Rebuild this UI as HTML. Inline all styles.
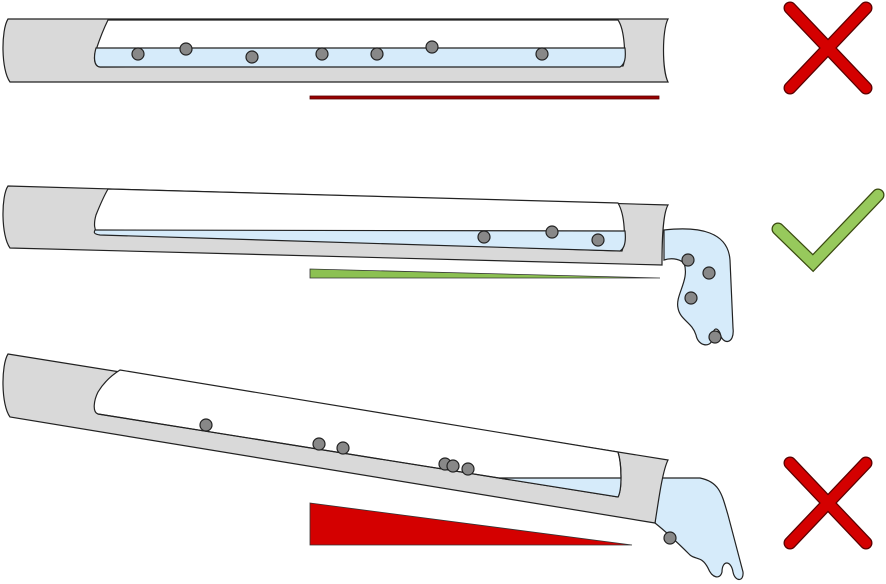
<!DOCTYPE html>
<html><head><meta charset="utf-8"><style>html,body{margin:0;padding:0;background:#fff}svg{display:block}</style></head><body>
<svg width="886" height="584" viewBox="0 0 886 584" xmlns="http://www.w3.org/2000/svg">
<g stroke="#222" stroke-width="1.2">
<!-- Tube 1 -->
<path d="M8,19 L668,19 C662,30 662,70 668,82 L10,82 C1,70 1,30 8,19Z" fill="#d9d9d9"/>
<path d="M108,20 L618,20 C625,30 626,60 623,66 L100,67 C93,66 94,55 96,50 C100,38 104,28 108,20Z" fill="#fff"/>
<path d="M96,48 L625,48 C626,58 625,64 620,67 L100,67 C93,66 94,55 96,48Z" fill="#d6ebfa"/>
<g fill="#888">
<circle cx="138" cy="54" r="6"/><circle cx="186" cy="49" r="6"/><circle cx="252" cy="57" r="6"/><circle cx="322" cy="54" r="6"/><circle cx="377" cy="54" r="6"/><circle cx="432" cy="47" r="6"/><circle cx="542" cy="54" r="6"/>
</g>
<rect x="310" y="96" width="349" height="3" fill="#990000" stroke="#5a0000" stroke-width="0.8"/>

<!-- Tube 2 -->
<path d="M664,230 C700,226 728,232 730,260 L733,328 C735,345 722,345 720,333 C716,325 712,330 712,340 C710,348 698,346 696,335 C692,322 680,320 678,308 C675,295 690,280 684,263 C678,258 670,258 664,260Z" fill="#d6ebfa"/>
<path d="M8,186 L668,205 C662,215 662,250 662,265 L10,248 C1,236 1,196 8,186Z" fill="#d9d9d9"/>
<path d="M108,189 L618,203 C625,215 626,240 622,251 L100,234 C93,232 94,222 96,215 C100,205 104,196 108,189Z" fill="#fff"/>
<path d="M95,230 L625,231 C626,240 625,248 620,251 L100,235 C93,234 94,232 95,230Z" fill="#d6ebfa"/>
<g fill="#888">
<circle cx="484" cy="237" r="6"/><circle cx="552" cy="232" r="6"/><circle cx="598" cy="240" r="6"/>
<circle cx="688" cy="260" r="6"/><circle cx="709" cy="273" r="6"/><circle cx="691" cy="298" r="6"/><circle cx="715" cy="337" r="6"/>
</g>
<path d="M310,269 L660,278 L310,278Z" fill="#8cc152" stroke="#333" stroke-width="0.8"/>

<!-- Tube 3 -->
<path d="M660,478 L700,478 C720,482 722,495 728,515 L743,572 C744,582 735,582 733,572 C731,560 722,560 722,572 C720,580 712,578 708,568 C702,556 696,560 690,555 C680,545 670,535 655,523Z" fill="#d6ebfa"/>
<path d="M8,354 L668,460 C662,472 658,505 655,523 L10,417 C1,405 1,365 8,354Z" fill="#d9d9d9"/>
<path d="M120,370 L618,452 C622,465 622,490 618,497 L98,414 C92,412 94,400 98,392 C104,382 112,375 120,370Z" fill="#fff"/>
<path d="M499,478 L621,478 C621,488 621,494 618,497Z" fill="#d6ebfa" stroke="none"/>
<path d="M499,478 L621,478" fill="none"/>
<path d="M618,452 C622,465 622,490 618,497 L98,414" fill="none"/>
<g fill="#888">
<circle cx="206" cy="425" r="6"/><circle cx="319" cy="444" r="6"/><circle cx="343" cy="448" r="6"/><circle cx="445" cy="464" r="6"/><circle cx="453" cy="466" r="6"/><circle cx="468" cy="469" r="6"/><circle cx="670" cy="538" r="6"/>
</g>
<path d="M310,503 L632,545 L310,545Z" fill="#d40000" stroke="#333" stroke-width="0.8"/>
</g>

<!-- Icons -->
<g fill="none" stroke-linecap="round">
<path d="M790,8 L866,88 M866,8 L790,88" stroke="#5a0000" stroke-width="13"/>
<path d="M790,8 L866,88 M866,8 L790,88" stroke="#d40000" stroke-width="10.5"/>
<path d="M790,463 L866,543 M866,463 L790,543" stroke="#5a0000" stroke-width="13"/>
<path d="M790,463 L866,543 M866,463 L790,543" stroke="#d40000" stroke-width="10.5"/>
<path d="M778,229 L813,263 L878,195" stroke="#3a4a10" stroke-width="13" stroke-linejoin="miter"/>
<path d="M778,229 L813,263 L878,195" stroke="#97c95c" stroke-width="10.5" stroke-linejoin="miter"/>
</g>
</svg>
</body></html>
